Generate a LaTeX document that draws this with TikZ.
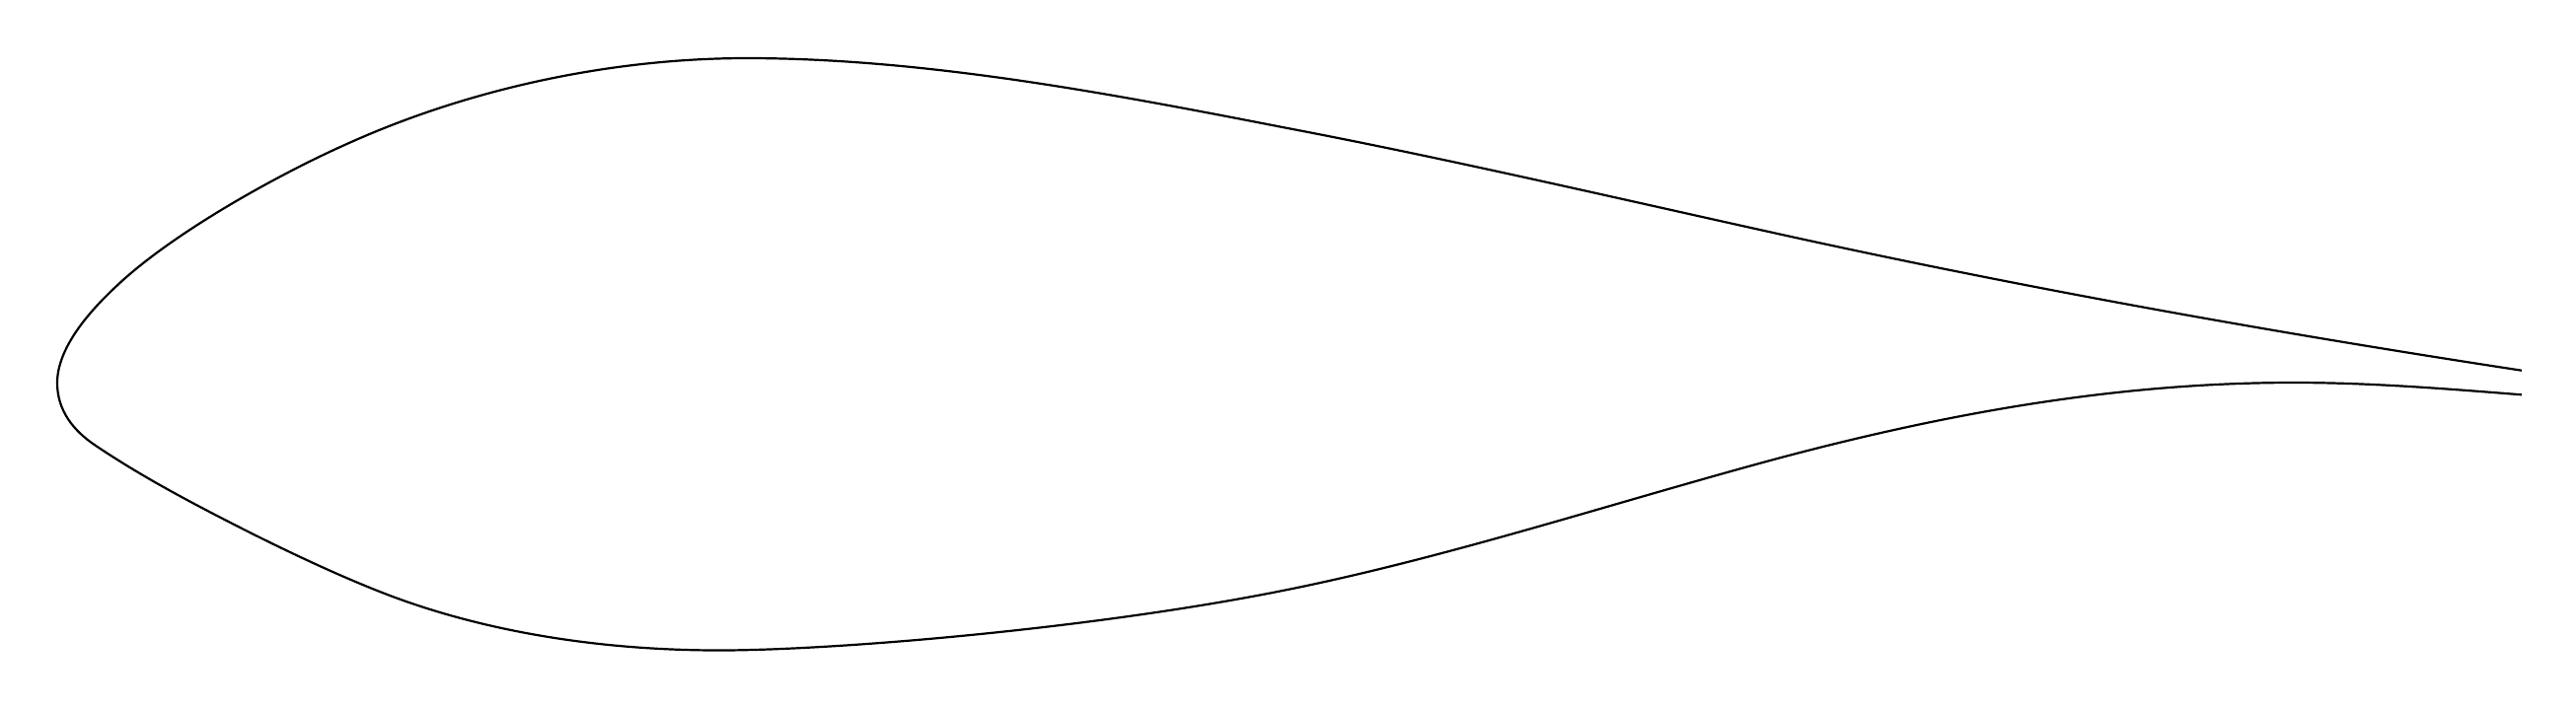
\documentclass[tikz,border=0pt]{standalone}
\tikzset{foil/.style={line width=0.22mm, color=black, line join=round}}

\begin{document}
\begin{tikzpicture}[x=0.01cm, y=-0.01cm]
		%%%%% START %%%%%
		
		\useasboundingbox (0, 0) rectangle (2611, 717);
		
		% upper side, trailing edge to nose
		\draw[foil] (2556, 375.7) .. controls (2306, 337.5) and (2050, 291.9) .. (1800, 236.6)
			.. controls (1638, 200.8) and (1465, 160.4) .. (1302, 129.4)
			.. controls (1126, 95) and (937, 59) .. (757, 59)
			.. controls (622, 59) and (477, 89) .. (350, 146.7)
			.. controls (280, 178) and (176, 236) .. (120, 288.3)
			.. controls (90, 316) and (58, 353) .. (58, 388.3)
		% lower side, nose to trailing edge
			.. controls (58, 416) and (74, 436.5) .. (96.7, 451.7)
			.. controls (142.7, 482.7) and (192, 508.8) .. (240, 533.3)
			.. controls (292, 559.8) and (361.7, 593) .. (416.7, 611.7)
			.. controls (516.7, 645.7) and (625, 659.5) .. (729, 659.5)
			.. controls (850, 659.5) and (1110, 637) .. (1300, 599)
			.. controls (1467, 565.6) and (1633, 510.5) .. (1800, 465.4)
			.. controls (1972, 419.4) and (2145, 388) .. (2325, 388)
			.. controls (2402, 388) and (2479, 394.2) .. (2556, 400.3);
		
		%%%%% END %%%%%
	\end{tikzpicture}
\end{document}
